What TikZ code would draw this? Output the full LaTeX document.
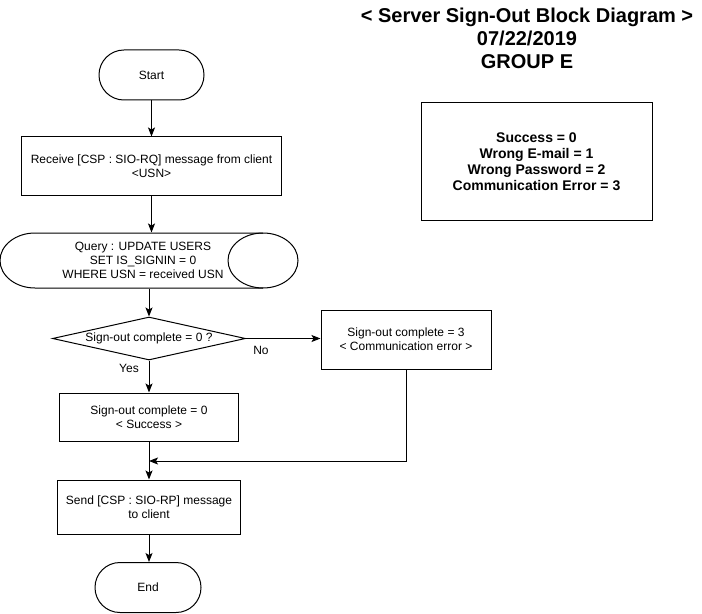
\documentclass[tikz,border=0pt]{standalone}
\usepackage{fontspec}
\setmainfont{Liberation Sans}
\usetikzlibrary{arrows.meta,shapes.geometric}

\tikzset{every picture/.style={line width=0.75pt}}
\tikzset{
  flowtext/.style={font=\fontsize{9}{10.35}\selectfont},
  flowbox/.style={draw,rectangle,inner sep=0.75pt,align=center,flowtext},
  termbox/.style={draw,rectangle,rounded corners=18.7pt,inner sep=0.75pt,flowtext},
  flowarrow/.style={-{Stealth[length=6.75pt,width=5.25pt,inset=1.5pt]}},
}

\begin{document}
\begin{tikzpicture}[x=0.75pt,y=0.75pt,yscale=-1,xscale=1]
\useasboundingbox (0,0) rectangle (702,613);

% Title
\draw (527,38) node [inner sep=0.75pt,align=center,font=\bfseries\fontsize{15}{17.25}\selectfont] (title) {{< Server Sign-Out Block Diagram >}\\07/22/2019\\GROUP E};
% Result codes
\draw (536.5,161.5) node [draw,rectangle,minimum width=173.25pt,minimum height=87.75pt,align=center,font=\bfseries\fontsize{10.5}{12}\selectfont] (codes) {Success = 0\\Wrong E-mail = 1\\Wrong Password = 2\\Communication Error = 3};

% Terminator
\draw (151.5,75) node [termbox,minimum width=78.75pt,minimum height=37.5pt] (start) {Start};
% Process
\draw (151.5,166) node [flowbox,minimum width=195pt,minimum height=43.5pt] (recv) {Receive [CSP : SIO-RQ] message from client\\<USN>};

%Shape: Cylinder
\draw (35,233) -- (263,233) arc[start angle=-90,end angle=90,x radius=35,y radius=27.5] -- (35,288) arc[start angle=90,end angle=270,x radius=35,y radius=27.5] -- cycle;
\draw (263,233) arc[start angle=-90,end angle=-270,x radius=35,y radius=27.5];
\draw (149,260.5) node [rectangle,minimum width=223.5pt,minimum height=41.25pt,inner sep=0pt] (query) {};
% Text Node
\draw (143,260.5) node [inner sep=0.75pt,align=center,flowtext] (querytext) {Query : UPDATE USERS\\SET IS\_SIGNIN = 0\\WHERE USN = received USN};

% Decision
\draw (149,338.5) node [draw,diamond,aspect=4.5,inner sep=0pt,minimum width=144.75pt,minimum height=32.25pt,flowtext] (check) {Sign-out complete = 0 ?};
% Process
\draw (406,339.5) node [flowbox,minimum width=127.5pt,minimum height=44.25pt] (comm) {Sign-out complete = 3\\< Communication error >};
% Process
\draw (149,417) node [flowbox,minimum width=134.25pt,minimum height=36pt] (succ) {Sign-out complete = 0\\< Success >};
% Process
\draw (149,507) node [flowbox,minimum width=137.25pt,minimum height=40.5pt] (send) {Send [CSP : SIO-RP] message\\to client};
% Terminator
\draw (148,587.5) node [termbox,minimum width=79.5pt,minimum height=37.5pt] (end) {End};

\coordinate (join) at (149,461);

%Straight Lines
\draw [flowarrow] (start) -- (recv);
\draw [flowarrow] (recv.south) -- (recv.south |- query.north);
\draw [flowarrow] (query) -- (check);
\draw [flowarrow] (check.east) -- (check.east -| comm.west);
\draw [flowarrow] (check) -- (succ);
\draw [flowarrow] (comm.south) |- (join);
\draw [flowarrow] (succ) -- (send);
\draw [flowarrow] (send.south) -- (send.south |- end.north);

% Text Node
\draw (261,350) node [inner sep=0.75pt,flowtext] (nolabel) {No};
% Text Node
\draw (129,368) node [inner sep=0.75pt,flowtext] (yeslabel) {Yes};
\end{tikzpicture}
\end{document}
